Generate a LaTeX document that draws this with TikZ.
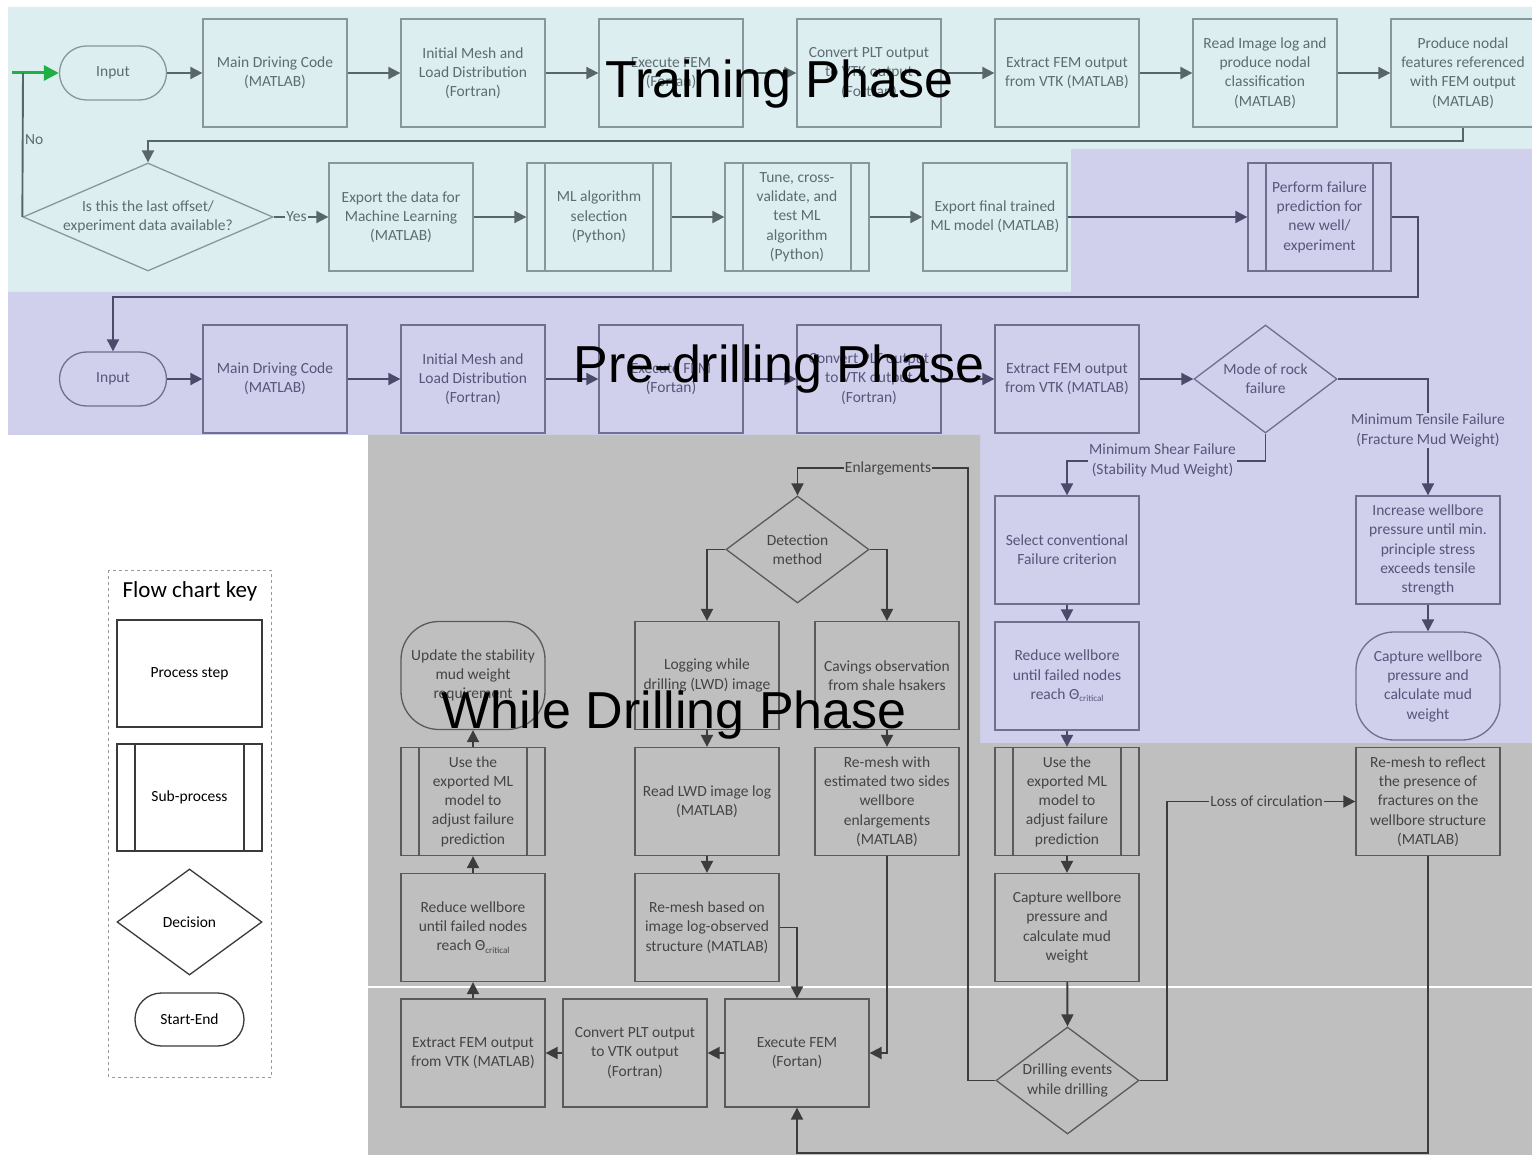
\documentclass[tikz,border=0pt]{standalone}
\usepackage{fontspec}
\setmainfont{Carlito}
\newfontfamily\titlefont{Liberation Sans}
\usetikzlibrary{arrows.meta,shapes.geometric,shapes.misc}

\definecolor{trbg}{HTML}{DCEEF0}
\definecolor{pdbg}{HTML}{D0CFEC}
\definecolor{wdbg}{HTML}{BFBFBF}
\definecolor{trdraw}{HTML}{87979C}
\definecolor{trtext}{HTML}{5E6C72}
\definecolor{trarrow}{HTML}{58666C}
\definecolor{pddraw}{HTML}{6F6F8F}
\definecolor{pdtext}{HTML}{56567A}
\definecolor{pdarrow}{HTML}{4A4A6A}
\definecolor{wddraw}{HTML}{5A5A5A}
\definecolor{wdtext}{HTML}{444444}
\definecolor{wdarrow}{HTML}{3C3C3C}
\definecolor{keydraw}{HTML}{3A3A3A}
\definecolor{startgreen}{HTML}{1FAF45}

\newcommand\critsub{\raisebox{-2.5pt}{\fontsize{9}{9}\selectfont critical}}

\begin{document}
\begin{tikzpicture}[x=1pt,y=-1pt,
  base/.style={inner sep=0pt, align=center, font=\fontsize{15.5}{19.3}\selectfont, line width=1.3pt},
  proc/.style={base, draw, rectangle, minimum width=144pt, minimum height=108pt},
  subproc/.style={proc, path picture={
      \draw[line width=1.3pt, draw=#1]
        ([xshift=18pt]path picture bounding box.north west) -- ([xshift=18pt]path picture bounding box.south west)
        ([xshift=-18pt]path picture bounding box.north east) -- ([xshift=-18pt]path picture bounding box.south east);}},
  stadium/.style={base, draw, rounded rectangle, minimum width=107pt, minimum height=54pt},
  roundbox/.style={base, draw, rectangle, rounded corners=38pt, minimum width=144pt, minimum height=108pt},
  decision/.style={base, draw, diamond, minimum width=143pt, minimum height=107pt},
  tr/.style={draw=trdraw, text=trtext},
  pd/.style={draw=pddraw, text=pdtext},
  wd/.style={draw=wddraw, text=wdtext},
  key/.style={draw=keydraw, text=black},
  trt/.style={base, text=trtext},
  pdt/.style={base, text=pdtext},
  wdt/.style={base, text=wdtext},
  keyt/.style={base, text=black},
  arr/.style={line width=1.9pt, -{Triangle[length=12pt,width=12pt]}},
  trc/.style={arr, draw=trarrow},
  pdc/.style={arr, draw=pdarrow},
  wdc/.style={arr, draw=wdarrow},
  phase/.style={font=\titlefont\fontsize{52}{60}\selectfont, text=black, anchor=base, inner sep=0pt}
]
\useasboundingbox (0,0) rectangle (1532,1155);
\fill[white] (0,0) rectangle (1532,1155);

% phase backgrounds
\fill[trbg] (8,7) -- (1532,7) -- (1532,149) -- (1071,149) -- (1071,292) -- (8,292) -- cycle;
\fill[pdbg] (1071,149) -- (1532,149) -- (1532,743) -- (980,743) -- (980,435) -- (8,435) -- (8,292) -- (1071,292) -- cycle;
\fill[wdbg] (368,435) -- (980,435) -- (980,743) -- (1532,743) -- (1532,1155) -- (368,1155) -- cycle;
\draw[white, line width=2pt] (368,986.5) -- (1532,986.5);

% ---------- training phase ----------
\node[stadium, tr] (in1) at (113,73) {Input};
\node[proc, tr] (mdc1) at (275,73) {Main Driving Code\\(MATLAB)};
\node[proc, tr] (imd1) at (473,73) {Initial Mesh and\\Load Distribution\\(Fortran)};
\node[proc, tr] (fem1) at (671,73) {Execute FEM\\(Fortan)};
\node[proc, tr] (plt1) at (869,73) {Convert PLT output\\to VTK output\\(Fortran)};
\node[proc, tr] (vtk1) at (1067,73) {Extract FEM output\\from VTK (MATLAB)};
\node[proc, tr] (img1) at (1265,73) {Read Image log and\\produce nodal\\classification\\(MATLAB)};
\node[proc, tr] (nod1) at (1463,73) {Produce nodal\\features referenced\\with FEM output\\(MATLAB)};

\node[decision, tr, minimum width=250pt, minimum height=108pt] (dec1) at (148,217) {};
\node[trt] (dec1t) at (dec1) {Is this the last offset/\\experiment data available?};
\node[proc, tr] (exp1) at (401,217) {Export the data for\\Machine Learning\\(MATLAB)};
\node[subproc=trdraw, tr] (mla) at (599,217) {ML algorithm\\selection\\(Python)};
\node[subproc=trdraw, tr] (tune) at (797,217) {Tune, cross-\\validate, and\\test ML\\algorithm\\(Python)};
\node[proc, tr] (fin) at (995,217) {Export final trained\\ML model (MATLAB)};
\node[subproc=pddraw, pd, minimum width=143pt] (pfp) at (1319.5,217) {Perform failure\\prediction for\\new well/\\experiment};

% ---------- pre-drilling phase ----------
\node[stadium, pd] (in2) at (113,379) {Input};
\node[proc, pd] (mdc2) at (275,379) {Main Driving Code\\(MATLAB)};
\node[proc, pd] (imd2) at (473,379) {Initial Mesh and\\Load Distribution\\(Fortran)};
\node[proc, pd] (fem2) at (671,379) {Execute FEM\\(Fortan)};
\node[proc, pd] (plt2) at (869,379) {Convert PLT output\\to VTK output\\(Fortran)};
\node[proc, pd] (vtk2) at (1067,379) {Extract FEM output\\from VTK (MATLAB)};
\node[decision, pd, minimum height=108pt] (mode) at (1265.5,379) {};
\node[pdt] (modet) at (mode) {Mode of rock\\failure};
\node[proc, pd] (sel) at (1067,550) {Select conventional\\Failure criterion};
\node[proc, pd] (red1) at (1067,676) {Reduce wellbore\\until failed nodes\\reach Θ\critsub};
\node[proc, pd] (inc) at (1428,550) {Increase wellbore\\pressure until min.\\principle stress\\exceeds tensile\\strength};
\node[roundbox, pd] (cap1) at (1428,686) {Capture wellbore\\pressure and\\calculate mud\\weight};

% ---------- while drilling phase ----------
\node[decision, wd] (det) at (797.5,549.5) {};
\node[wdt] (dett) at (det) {Detection\\method};
\node[roundbox, wd] (upd) at (473,675.5) {Update the stability\\mud weight\\requirement};
\node[proc, wd] (lwd) at (707,675.5) {Logging while\\drilling (LWD) image};
\node[proc, wd] (cav) at (887,675.5) {Cavings observation\\from shale hsakers};
\node[subproc=wddraw, wd] (use1) at (473,801.5) {Use the\\exported ML\\model to\\adjust failure\\prediction};
\node[proc, wd] (rlwd) at (707,801.5) {Read LWD image log\\(MATLAB)};
\node[proc, wd] (rme) at (887,801.5) {Re-mesh with\\estimated two sides\\wellbore\\enlargements\\(MATLAB)};
\node[proc, wd] (red2) at (473,927.5) {Reduce wellbore\\until failed nodes\\reach Θ\critsub};
\node[proc, wd] (rmb) at (707,927.5) {Re-mesh based on\\image log-observed\\structure (MATLAB)};
\node[subproc=wddraw, wd] (use2) at (1067,801.5) {Use the\\exported ML\\model to\\adjust failure\\prediction};
\node[proc, wd] (cap2) at (1067,927.5) {Capture wellbore\\pressure and\\calculate mud\\weight};
\node[decision, wd] (drl) at (1067.5,1080.5) {};
\node[wdt] (drlt) at (drl) {Drilling events\\while drilling};
\node[proc, wd] (rrf) at (1428,801.5) {Re-mesh to reflect\\the presence of\\fractures on the\\wellbore structure\\(MATLAB)};
\node[proc, wd] (vtk3) at (473,1053) {Extract FEM output\\from VTK (MATLAB)};
\node[proc, wd] (plt3) at (635,1053) {Convert PLT output\\to VTK output\\(Fortran)};
\node[proc, wd] (fem3) at (797,1053) {Execute FEM\\(Fortan)};

% ---------- connectors: training ----------
\coordinate (entry) at (12,73);
\draw[line width=3pt, draw=startgreen, -{Triangle[length=15pt,width=15pt]}] (entry) -- (in1.west);
\draw[trc] (in1) -- (mdc1);
\draw[trc] (mdc1) -- (imd1);
\draw[trc] (imd1) -- (fem1);
\draw[trc] (fem1) -- (plt1);
\draw[trc] (plt1) -- (vtk1);
\draw[trc] (vtk1) -- (img1);
\draw[trc] (img1) -- (nod1);
\draw[trc] (nod1.south) -- ++(0,13) -| (dec1.north);
\coordinate (nojoin) at (23,73);
\draw[line width=1.9pt, draw=trarrow] (dec1.west) -- (nojoin);
\node[trt, fill=trbg, inner sep=1.5pt, anchor=west] (nolbl) at (23,140) {No};
\draw[trc] (dec1.east) -- (exp1.west);
\node[trt, fill=trbg, inner sep=1pt] (yeslbl) at (296.5,217) {Yes};
\draw[trc] (exp1) -- (mla);
\draw[trc] (mla) -- (tune);
\draw[trc] (tune) -- (fin);
\draw[pdc] (fin) -- (pfp);
\coordinate (loop) at (1418,297);
\draw[pdc] (pfp.east) -| (loop) -| (in2.north);

% ---------- connectors: pre-drilling ----------
\draw[pdc] (in2) -- (mdc2);
\draw[pdc] (mdc2) -- (imd2);
\draw[pdc] (imd2) -- (fem2);
\draw[pdc] (fem2) -- (plt2);
\draw[pdc] (plt2) -- (vtk2);
\draw[pdc] (vtk2) -- (mode.west);
\draw[pdc] (mode.east) -| (inc.north);
\node[pdt, fill=pdbg, inner sep=1pt] (tenslbl) at (1428,430.5) {Minimum Tensile Failure\\(Fracture Mud Weight)};
\draw[pdc] (mode.south) -- ++(0,27.5) -| (sel.north);
\node[pdt, fill=pdbg, inner sep=1pt] (shearlbl) at (1162.5,460.5) {Minimum Shear Failure\\(Stability Mud Weight)};
\draw[pdc] (sel) -- (red1);
\draw[pdc] (inc) -- (cap1);
\draw[pdc] (red1) -- (use2);

% ---------- connectors: while drilling ----------
\draw[wdc] (use2) -- (cap2);
\draw[wdc] (cap2) -- (drl.north);
\coordinate (enl) at (968,468);
\draw[wdc] (drl.west) -| (enl) -| (det.north);
\node[wdt, fill=wdbg, inner sep=1pt] (enllbl) at (888,468.5) {Enlargements};
\coordinate (loc) at (1167,801.5);
\draw[wdc] (drl.east) -| (loc) -- (rrf.west);
\node[wdt, fill=wdbg, inner sep=1pt] (loclbl) at (1266.5,801.5) {Loss of circulation};
\draw[wdc] (det.west) -| (lwd.north);
\draw[wdc] (det.east) -| (cav.north);
\draw[wdc] (lwd) -- (rlwd);
\draw[wdc] (rlwd) -- (rmb);
\draw[wdc] (cav) -- (rme);
\draw[wdc] (rmb.east) -| (fem3.north);
\draw[wdc] (rme.south) |- (fem3.east);
\draw[wdc] (fem3) -- (plt3);
\draw[wdc] (plt3) -- (vtk3);
\draw[wdc] (vtk3) -- (red2);
\draw[wdc] (red2) -- (use1);
\draw[wdc] (use1) -- (upd);
\draw[wdc] (rrf.south) -- ++(0,297) -| (fem3.south);

% ---------- flow chart key ----------
\draw[draw=gray!80, dashed, line width=0.9pt] (108.5,570) rectangle (271,1077);
\node[keyt, font=\fontsize{23}{26}\selectfont] (keytitle) at (190,591) {Flow chart key};
\node[proc, key, minimum width=145pt, minimum height=107pt] (kproc) at (189.5,673.5) {Process step};
\node[subproc=keydraw, key, minimum width=145pt, minimum height=107pt] (ksub) at (189.5,797.5) {Sub-process};
\node[decision, key, minimum width=145pt, minimum height=106pt] (kdec) at (189.5,922) {};
\node[keyt] (kdect) at (kdec) {Decision};
\node[stadium, key, minimum width=109pt, minimum height=53pt] (kse) at (189.5,1019.5) {Start-End};

% ---------- phase titles ----------
\node[phase] (ttrain) at (779.5,98) {Training Phase};
\node[phase] (tpre) at (779,383) {Pre-drilling Phase};
\node[phase] (twhile) at (674,728) {While Drilling Phase};
\end{tikzpicture}
\end{document}
